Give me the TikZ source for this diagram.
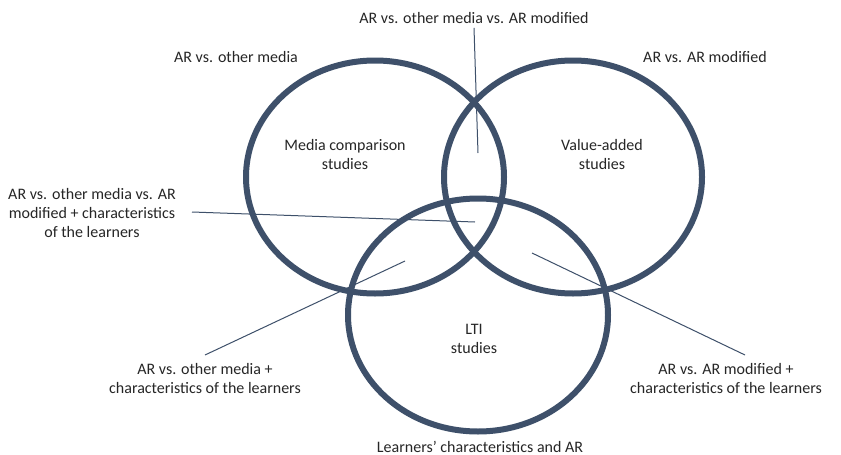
\documentclass[tikz,border=0pt]{standalone}
\usepackage{fontspec}
\setmainfont{Carlito}
\begin{document}
\begin{tikzpicture}[x=1pt,y=-1pt,
  ringline/.style={draw=ringblue,line width=6pt},
  leader/.style={draw=ringblue,line width=1pt},
  lbl/.style={align=center,inner sep=0pt,text=black!85,font=\fontsize{16}{19}\selectfont}]
\definecolor{ringblue}{RGB}{62,80,106}
\useasboundingbox[fill=white] (0,0) rectangle (841,455);

% circle centres
\coordinate (cmed) at (375,177);
\coordinate (cval) at (573,177);
\coordinate (clti) at (478,315);

% labels inside the rings
\node[lbl] (med) at (345,155) {Media comparison\\studies};
\node[lbl] (val) at (602,155) {Value-added\\studies};
\node[lbl] (lti) at (474,339) {LTI\\studies};

% outer labels
\node[lbl] (top) at (474,18) {AR vs. other media vs. AR modified};
\node[lbl] (lmed) at (236,57) {AR vs. other media};
\node[lbl] (lval) at (705,57) {AR vs. AR modified};
\node[lbl] (lall) at (92,213) {AR vs. other media vs. AR\\modified + characteristics\\of the learners};
\node[lbl] (lml) at (205,378) {AR vs. other media +\\characteristics of the learners};
\node[lbl] (lvl) at (726,378) {AR vs. AR modified +\\characteristics of the learners};
\node[lbl] (llti) at (480,447) {Learners’ characteristics and AR};

% leader end points inside the overlaps
\coordinate (ptop) at (478,153);
\coordinate (pall) at (475,222);
\coordinate (pml) at (405,261);
\coordinate (pvl) at (532,253);
\coordinate (sall) at (192,212);
\coordinate (sml) at (205,355);
\coordinate (svl) at (745,355);

% leader lines
\draw[leader] (top.south) ++(0,4) coordinate (stop) (stop) -- (ptop);
\draw[leader] (sall) -- (pall);
\draw[leader] (sml) -- (pml);
\draw[leader] (svl) -- (pvl);

% the three rings
\draw[ringline] (cmed) ellipse [x radius=129, y radius=116.5];
\draw[ringline] (cval) ellipse [x radius=129, y radius=116.5];
\draw[ringline] (clti) ellipse [x radius=130, y radius=116.5];
\end{tikzpicture}
\end{document}
